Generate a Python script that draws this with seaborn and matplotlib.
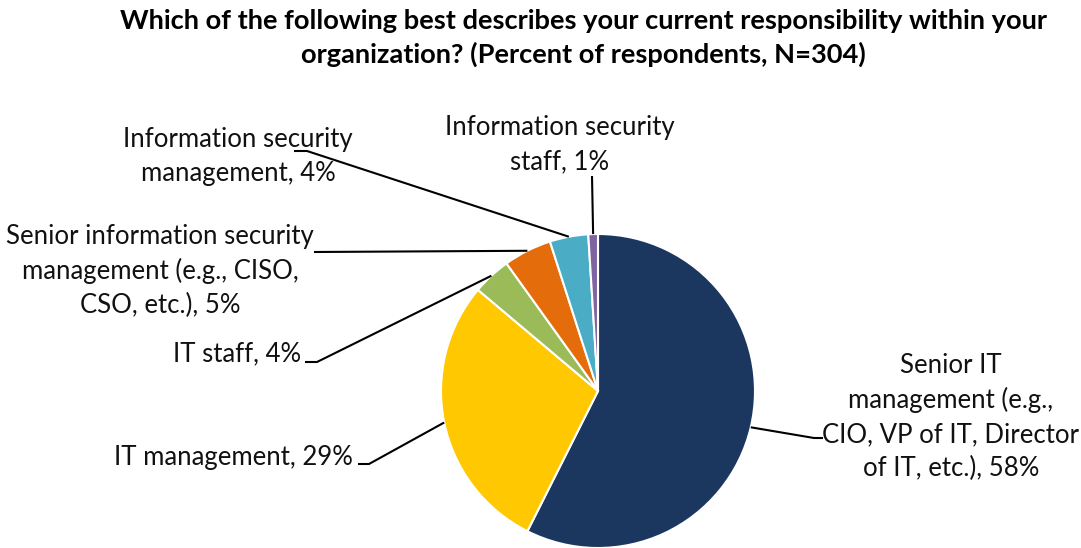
import numpy as np
import matplotlib
matplotlib.use("Agg")
import matplotlib.pyplot as plt
import seaborn as sns

sns.set_theme(style="white")
plt.rcParams['font.family'] = ['Lato', 'DejaVu Sans']

categories = [
    "Senior IT\nmanagement (e.g.,\nCIO, VP of IT, Director\nof IT, etc.), 58%",
    "IT management, 29%",
    "IT staff, 4%",
    "Senior information security\nmanagement (e.g., CISO,\nCSO, etc.), 5%",
    "Information security\nmanagement, 4%",
    "Information security\nstaff, 1%",
]
values = [58, 29, 4, 5, 4, 1]
colors = ["#1B375F", "#FFC800", "#9BBB59", "#E46C0A", "#4BACC6", "#8064A2"]

W, H = 1081, 548
fig = plt.figure(figsize=(W / 100, H / 100), dpi=100)
ax = fig.add_axes([0, 0, 1, 1])

def Y(py):
    return H - py

cx, cy, R = 598, Y(391), 157
wedges, _ = ax.pie(values, colors=colors, startangle=90, counterclock=False,
                   center=(cx, cy), radius=R, frame=True,
                   wedgeprops=dict(edgecolor="white", linewidth=1.5))
ax.set_xlim(0, W)
ax.set_ylim(0, H)
ax.set_aspect("equal")
ax.axis("off")

def edge_point(w):
    a = np.deg2rad((w.theta1 + w.theta2) / 2)
    return cx + R * np.cos(a), cy + R * np.sin(a)

layout = [
    dict(x=951, y=417, ha="center", path=[(823, 438), (814, 438)]),
    dict(x=353, y=458, ha="right", path=[(358, 464), (369, 464)]),
    dict(x=301, y=354, ha="right", path=[(305, 362), (317, 362)]),
    dict(x=160, y=271, ha="center", path=[(314, 252)]),
    dict(x=238, y=157, ha="center", path=[(294, 151), (307, 151)]),
    dict(x=560, y=145, ha="center", path=[(592, 176)]),
]

for w, lab, lay in zip(wedges, categories, layout):
    ex, ey = edge_point(w)
    xs = [p[0] for p in lay["path"]] + [ex]
    ys = [Y(p[1]) for p in lay["path"]] + [ey]
    ax.plot(xs, ys, color="black", lw=1.5, solid_capstyle="butt")
    ax.text(lay["x"], Y(lay["y"]), lab, ha=lay["ha"], va="center",
            fontsize=18.5, color="#111111", linespacing=1.45)

ax.text(583, Y(38), "Which of the following best describes your current responsibility within your\norganization? (Percent of respondents, N=304)",
        ha="center", va="center", fontsize=19.6, fontweight="bold", color="black",
        linespacing=1.38)

fig.savefig("out.png", dpi=100)
